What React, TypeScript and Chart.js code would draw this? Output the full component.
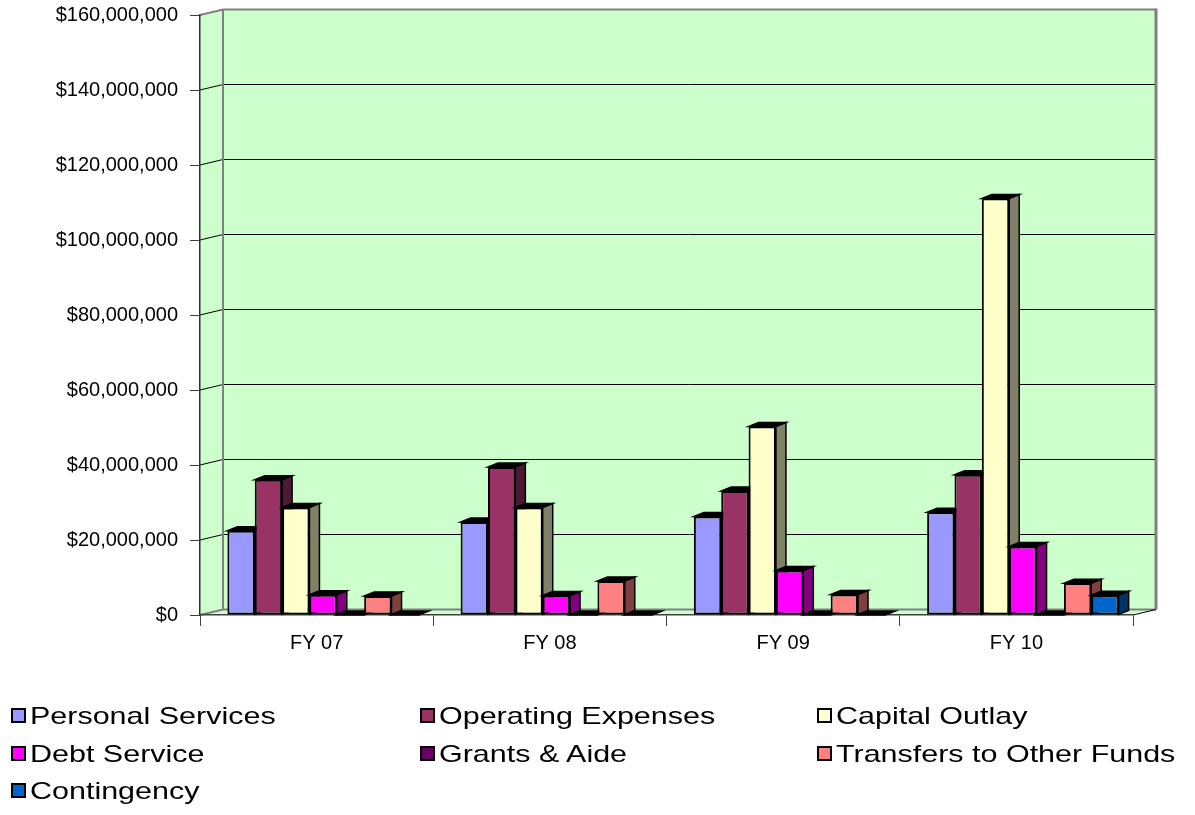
import React, { useEffect, useRef } from "react";
import { Chart, registerables } from "chart.js";

Chart.register(...registerables);

// ---------- data ----------
const categories = ["FY 07", "FY 08", "FY 09", "FY 10"];
const seriesNames = [
  "Personal Services",
  "Operating Expenses",
  "Capital Outlay",
  "Debt Service",
  "Grants & Aide",
  "Transfers to Other Funds",
  "Contingency",
];
const personalServices = [22500000, 24800000, 26300000, 27400000];
const operatingExpenses = [36100000, 39500000, 33100000, 37400000];
const capitalOutlay = [28700000, 28700000, 50300000, 111100000];
const debtService = [5400000, 5200000, 11900000, 18300000];
const grantsAide = [0, 0, 0, 0];
const transfersToOtherFunds = [5100000, 9100000, 5500000, 8500000];
const contingency = [0, 0, 0, 5300000];
const seriesValues = [
  personalServices,
  operatingExpenses,
  capitalOutlay,
  debtService,
  grantsAide,
  transfersToOtherFunds,
  contingency,
];
const yMin = 0;
const yMax = 160000000;
const yStep = 20000000;

// ---------- style ----------
const frontColors = ["#9999FF", "#993366", "#FFFFCC", "#FF00FF", "#660066", "#FF8080", "#0066CC"];
const sideColors = ["#4D4D80", "#4D1A33", "#808066", "#800080", "#330033", "#804040", "#003366"];
const WALL_COLOR = "#CCFFCC";
const WALL_DX = 23;
const WALL_DY = -5.5;
const BAR_DX = 10;
const BAR_DY = -4;
const BAR_SHIFT = 6.5;
const FONT = "'Liberation Sans', Arial, sans-serif";

const threeDPlugin = {
  id: "threeD",
  beforeDraw(chart: any) {
    const { ctx, chartArea: a, scales } = chart;
    const y = scales.y;
    const poly = (pts: number[][]) => {
      ctx.beginPath();
      ctx.moveTo(pts[0][0], pts[0][1]);
      for (let i = 1; i < pts.length; i++) ctx.lineTo(pts[i][0], pts[i][1]);
      ctx.closePath();
    };
    ctx.save();
    ctx.fillStyle = WALL_COLOR;
    // side wall
    poly([
      [a.left, a.top],
      [a.left + WALL_DX, a.top + WALL_DY],
      [a.left + WALL_DX, a.bottom + WALL_DY],
      [a.left, a.bottom],
    ]);
    ctx.fill();
    // back wall
    ctx.fillRect(a.left + WALL_DX, a.top + WALL_DY, a.right - a.left, a.bottom - a.top);
    // floor
    poly([
      [a.left, a.bottom],
      [a.right, a.bottom],
      [a.right + WALL_DX, a.bottom + WALL_DY],
      [a.left + WALL_DX, a.bottom + WALL_DY],
    ]);
    ctx.fill();

    // gridlines
    y.ticks.forEach((t: any) => {
      const py = y.getPixelForValue(t.value);
      const edge = t.value === yMin || t.value === yMax;
      ctx.strokeStyle = edge ? "#808080" : "#000000";
      ctx.lineWidth = edge ? 2 : 1;
      ctx.beginPath();
      ctx.moveTo(a.left, py);
      ctx.lineTo(a.left + WALL_DX, py + WALL_DY);
      ctx.lineTo(a.right + WALL_DX, py + WALL_DY);
      ctx.stroke();
    });
    // back wall vertical edges
    ctx.strokeStyle = "#808080";
    ctx.lineWidth = 2;
    ctx.beginPath();
    ctx.moveTo(a.left + WALL_DX, a.top + WALL_DY);
    ctx.lineTo(a.left + WALL_DX, a.bottom + WALL_DY);
    ctx.stroke();
    ctx.lineWidth = 3;
    ctx.beginPath();
    ctx.moveTo(a.right + WALL_DX, a.top + WALL_DY - 1);
    ctx.lineTo(a.right + WALL_DX, a.bottom + WALL_DY);
    ctx.stroke();
    // floor right edge
    ctx.strokeStyle = "#000000";
    ctx.lineWidth = 1;
    ctx.beginPath();
    ctx.moveTo(a.right, a.bottom);
    ctx.lineTo(a.right + WALL_DX, a.bottom + WALL_DY);
    ctx.stroke();
    ctx.restore();
  },
  beforeDatasetsDraw() {
    return false;
  },
  afterDraw(chart: any) {
    const ctx = chart.ctx;
    ctx.save();
    ctx.translate(BAR_SHIFT, 0);
    chart.data.datasets.forEach((_ds: any, i: number) => {
      const meta = chart.getDatasetMeta(i);
      if (meta.hidden) return;
      meta.data.forEach((el: any) => {
        const { x, y, base, width } = el.getProps(["x", "y", "base", "width"], true);
        const L = x - width / 2;
        const R = x + width / 2;
        const T = Math.min(y, base);
        const B = Math.max(y, base);
        ctx.lineJoin = "miter";
        // side face
        if (B - T > 0.5) {
          ctx.beginPath();
          ctx.moveTo(R, T);
          ctx.lineTo(R + BAR_DX, T + BAR_DY);
          ctx.lineTo(R + BAR_DX, B + BAR_DY);
          ctx.lineTo(R, B);
          ctx.closePath();
          ctx.fillStyle = sideColors[i];
          ctx.fill();
          ctx.strokeStyle = "#000";
          ctx.lineWidth = 1.5;
          ctx.stroke();
        }
        // top face
        ctx.beginPath();
        ctx.moveTo(L, T);
        ctx.lineTo(R, T);
        ctx.lineTo(R + BAR_DX, T + BAR_DY);
        ctx.lineTo(L + BAR_DX, T + BAR_DY);
        ctx.closePath();
        ctx.fillStyle = "#000";
        ctx.fill();
        ctx.strokeStyle = "#000";
        ctx.lineWidth = 1.5;
        ctx.stroke();
        // front face (library element)
        if (B - T > 0.5) el.draw(ctx);
      });
    });
    ctx.restore();
  },
};

export default function App() {
  const canvasRef = useRef<HTMLCanvasElement | null>(null);

  useEffect(() => {
    if (!canvasRef.current) return;
    const chart = new Chart(canvasRef.current, {
      type: "bar",
      data: {
        labels: categories,
        datasets: seriesNames.map((name, i) => ({
          label: name,
          data: seriesValues[i],
          backgroundColor: frontColors[i],
          borderColor: "#000000",
          borderWidth: 2,
          borderSkipped: false,
          categoryPercentage: 0.821,
          barPercentage: 1.0,
        })),
      },
      options: {
        responsive: false,
        devicePixelRatio: 1,
        animation: false,
        events: [],
        layout: { padding: { left: 0, right: 62, top: 15, bottom: 158 } },
        plugins: {
          legend: { display: false },
          tooltip: { enabled: false },
          title: { display: false },
        },
        scales: {
          x: {
            afterFit: (s: any) => {
              s.height = 42;
              s.paddingLeft = 0;
              s.paddingRight = 0;
            },
            grid: {
              offset: true,
              drawOnChartArea: false,
              drawTicks: true,
              tickLength: 11,
              color: "#404040",
              lineWidth: 1,
            },
            border: { display: true, color: "#404040", width: 1.5 },
            ticks: {
              color: "#000000",
              font: { family: FONT, size: 20, weight: "normal" },
              padding: 5,
            },
          },
          y: {
            min: yMin,
            max: yMax,
            afterFit: (s: any) => {
              s.width = 200;
              s.paddingTop = 0;
              s.paddingBottom = 0;
            },
            grid: {
              drawOnChartArea: false,
              drawTicks: true,
              tickLength: 10,
              color: "#404040",
              lineWidth: 1,
            },
            border: { display: true, color: "#303030", width: 1.5 },
            ticks: {
              stepSize: yStep,
              color: "#000000",
              font: { family: FONT, size: 20, weight: "normal" },
              padding: 12,
              callback: (v: any) => "$" + Number(v).toLocaleString("en-US"),
            },
          },
        },
      },
      plugins: [threeDPlugin],
    } as any);
    return () => chart.destroy();
  }, []);

  const colX = [11, 420, 817];
  const rowY = [702, 740, 777];

  return (
    <div style={{ position: "absolute", left: 0, top: 0, width: 1195, height: 815, background: "#ffffff" }}>
      <canvas ref={canvasRef} width={1195} height={815} style={{ position: "absolute", left: 0, top: 0 }} />
      {seriesNames.map((name, i) => (
        <div
          key={name}
          style={{
            position: "absolute",
            left: colX[i % 3],
            top: rowY[Math.floor(i / 3)],
            height: 27,
            display: "flex",
            alignItems: "center",
            fontFamily: FONT,
            fontSize: 24,
            color: "#000",
            whiteSpace: "nowrap",
          }}
        >
          <span
            style={{
              display: "inline-block",
              width: 11,
              height: 11,
              background: frontColors[i],
              border: "2px solid #000",
              marginRight: 4,
            }}
          />
          <span style={{ display: "inline-block", transform: "scaleX(1.27)", transformOrigin: "left center" }}>{name}</span>
        </div>
      ))}
    </div>
  );
}
